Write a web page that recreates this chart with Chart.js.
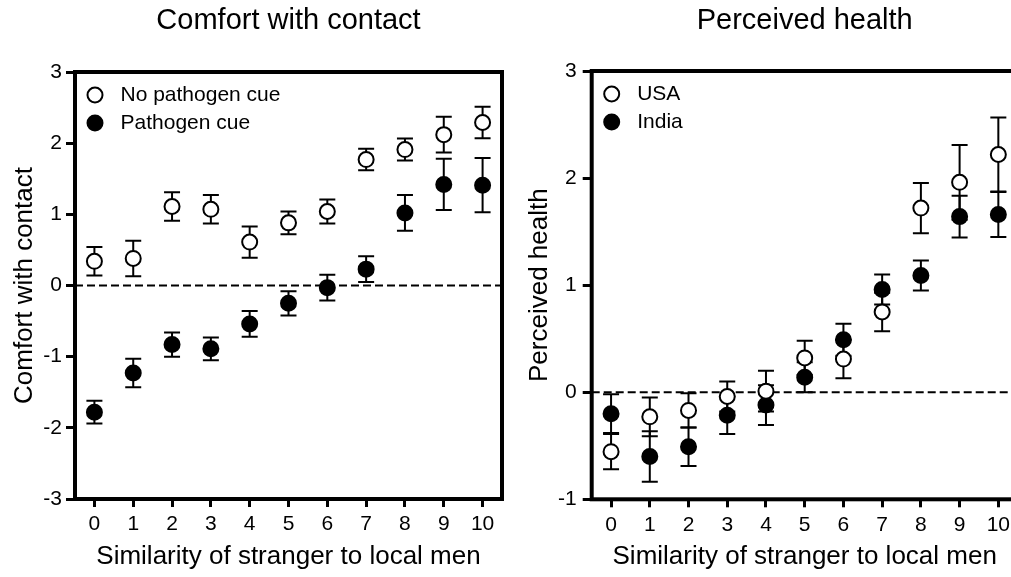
<!DOCTYPE html>
<html lang="en">
<head>
    <meta charset="UTF-8">
    <title>Comfort with contact / Perceived health</title>
    <script src="https://cdn.jsdelivr.net/npm/chart.js"></script>
    <style>
        html, body { margin: 0; padding: 0; background: #fff; overflow: hidden; width: 1011px; height: 577px; }
        #leftChart { position: absolute; left: 0; top: 0; }
        #rightChart { position: absolute; left: 510px; top: 0; }
    </style>
</head>
<body>
    <canvas id="leftChart" width="520" height="577"></canvas>
    <canvas id="rightChart" width="540" height="577"></canvas>

    <script>
        // similarity of stranger to local men (x)
        const similarity = [0, 1, 2, 3, 4, 5, 6, 7, 8, 9, 10];

        // Comfort with contact
        const noCueMean = [0.34, 0.38, 1.11, 1.07, 0.61, 0.88, 1.04, 1.77, 1.91, 2.12, 2.29];
        const noCueErr  = [0.20, 0.25, 0.20, 0.20, 0.22, 0.16, 0.17, 0.15, 0.155, 0.25, 0.22];
        const cueMean   = [-1.78, -1.23, -0.83, -0.89, -0.54, -0.25, -0.03, 0.23, 1.02, 1.42, 1.41];
        const cueErr    = [0.16, 0.20, 0.17, 0.16, 0.18, 0.17, 0.18, 0.18, 0.25, 0.36, 0.38];

        // Perceived health
        const usaMean   = [-0.555, -0.23, -0.17, -0.04, 0.01, 0.32, 0.31, 0.75, 1.72, 1.96, 2.22];
        const usaErr    = [0.165, 0.18, 0.16, 0.14, 0.19, 0.16, 0.18, 0.18, 0.235, 0.35, 0.345];
        const indiaMean = [-0.20, -0.60, -0.51, -0.215, -0.12, 0.14, 0.49, 0.96, 1.09, 1.64, 1.66];
        const indiaErr  = [0.18, 0.235, 0.18, 0.175, 0.185, 0.14, 0.15, 0.14, 0.14, 0.195, 0.21];

        const comfortTicks = [-3, -2, -1, 0, 1, 2, 3];
        const healthTicks = [-1, 0, 1, 2, 3];

        const FONT = "'Liberation Sans', Arial, Helvetica, sans-serif";
        Chart.defaults.font.family = FONT;
        Chart.defaults.color = '#000';

        function points(means, errs) {
            return similarity.map((x, i) => ({ x: x, y: means[i], err: errs[i] }));
        }

        // zero line + error bars under the markers, frame + legend on top
        const panelDecor = {
            id: 'panelDecor',
            beforeDatasetsDraw(chart) {
                const { ctx, chartArea, scales: { x, y } } = chart;
                ctx.save();
                ctx.strokeStyle = '#000';
                ctx.lineWidth = 2;
                ctx.setLineDash([8, 4]);
                const y0 = y.getPixelForValue(0);
                ctx.beginPath();
                ctx.moveTo(chartArea.left, y0);
                ctx.lineTo(chartArea.right, y0);
                ctx.stroke();
                ctx.setLineDash([]);
                chart.data.datasets.forEach(ds => {
                    ds.data.forEach(p => {
                        const px = x.getPixelForValue(p.x);
                        const top = y.getPixelForValue(p.y + p.err);
                        const bot = y.getPixelForValue(p.y - p.err);
                        ctx.beginPath();
                        ctx.moveTo(px, top); ctx.lineTo(px, bot);
                        ctx.moveTo(px - 8, top); ctx.lineTo(px + 8, top);
                        ctx.moveTo(px - 8, bot); ctx.lineTo(px + 8, bot);
                        ctx.stroke();
                    });
                });
                ctx.restore();
            },
            afterDatasetsDraw(chart) {
                const { ctx, chartArea } = chart;
                ctx.save();
                ctx.strokeStyle = '#000';
                ctx.lineWidth = 4;
                ctx.strokeRect(chartArea.left, chartArea.top,
                    chartArea.right - chartArea.left, chartArea.bottom - chartArea.top);

                // legend
                ctx.font = '21px ' + FONT;
                ctx.textBaseline = 'middle';
                ctx.textAlign = 'left';
                ctx.lineWidth = 2;
                chart.data.datasets.forEach((ds, i) => {
                    const cy = chartArea.top + 23 + i * 28;
                    const cx = chartArea.left + 20;
                    ctx.beginPath();
                    ctx.arc(cx, cy, 7.5, 0, Math.PI * 2);
                    ctx.fillStyle = ds.backgroundColor;
                    ctx.fill();
                    ctx.stroke();
                    ctx.fillStyle = '#000';
                    ctx.fillText(ds.label, chartArea.left + 45.5, cy);
                });
                ctx.restore();
            }
        };

        function makePanel(canvasId, cfg) {
            return new Chart(document.getElementById(canvasId), {
                type: 'scatter',
                data: {
                    datasets: [
                        {
                            label: cfg.openLabel,
                            data: points(cfg.openMean, cfg.openErr),
                            backgroundColor: '#fff',
                            borderColor: '#000',
                            borderWidth: 2,
                            pointRadius: 7.5
                        },
                        {
                            label: cfg.filledLabel,
                            data: points(cfg.filledMean, cfg.filledErr),
                            backgroundColor: '#000',
                            borderColor: '#000',
                            borderWidth: 2,
                            pointRadius: 7.5
                        }
                    ]
                },
                options: {
                    responsive: false,
                    animation: false,
                    events: [],
                    layout: { padding: { left: 0, top: 0, bottom: 0, right: cfg.padRight } },
                    plugins: {
                        legend: { display: false },
                        tooltip: { enabled: false },
                        title: {
                            display: true,
                            text: cfg.title,
                            fullSize: false,
                            font: { size: 29, weight: 'normal' },
                            padding: { top: 4, bottom: cfg.titleGap }
                        }
                    },
                    scales: {
                        x: {
                            type: 'linear',
                            min: -0.5,
                            max: 10.5,
                            afterFit: s => { s.height = cfg.xAxisHeight; },
                            afterBuildTicks: s => { s.ticks = similarity.map(v => ({ value: v })); },
                            border: { display: false },
                            grid: { drawOnChartArea: false, tickLength: 8, tickWidth: 3, tickColor: '#000' },
                            ticks: { font: { size: 21 }, padding: 5, maxRotation: 0 },
                            title: {
                                display: true,
                                text: 'Similarity of stranger to local men',
                                font: { size: 26 },
                                padding: { top: 0, bottom: 5 }
                            }
                        },
                        y: {
                            min: cfg.yTicks[0],
                            max: cfg.yTicks[cfg.yTicks.length - 1],
                            afterFit: s => { s.width = cfg.yAxisWidth; },
                            afterBuildTicks: s => { s.ticks = cfg.yTicks.map(v => ({ value: v })); },
                            border: { display: false },
                            grid: { drawOnChartArea: false, tickLength: 9, tickWidth: 3, tickColor: '#000' },
                            ticks: { font: { size: 21 }, padding: cfg.yTickPad },
                            title: {
                                display: true,
                                text: cfg.title,
                                font: { size: 26 },
                                padding: { top: cfg.yTitlePad, bottom: 0 }
                            }
                        }
                    }
                },
                plugins: [panelDecor]
            });
        }

        makePanel('leftChart', {
            title: 'Comfort with contact',
            openLabel: 'No pathogen cue', openMean: noCueMean, openErr: noCueErr,
            filledLabel: 'Pathogen cue', filledMean: cueMean, filledErr: cueErr,
            yTicks: comfortTicks,
            padRight: 18, yAxisWidth: 75, xAxisHeight: 78, titleGap: 33.2,
            yTickPad: 4, yTitlePad: 9
        });

        makePanel('rightChart', {
            title: 'Perceived health',
            openLabel: 'USA', openMean: usaMean, openErr: usaErr,
            filledLabel: 'India', filledMean: indiaMean, filledErr: indiaErr,
            yTicks: healthTicks,
            padRight: 32.3, yAxisWidth: 81.7, xAxisHeight: 77.7, titleGap: 32.2,
            yTickPad: 6, yTitlePad: 14
        });
    </script>
</body>
</html>
